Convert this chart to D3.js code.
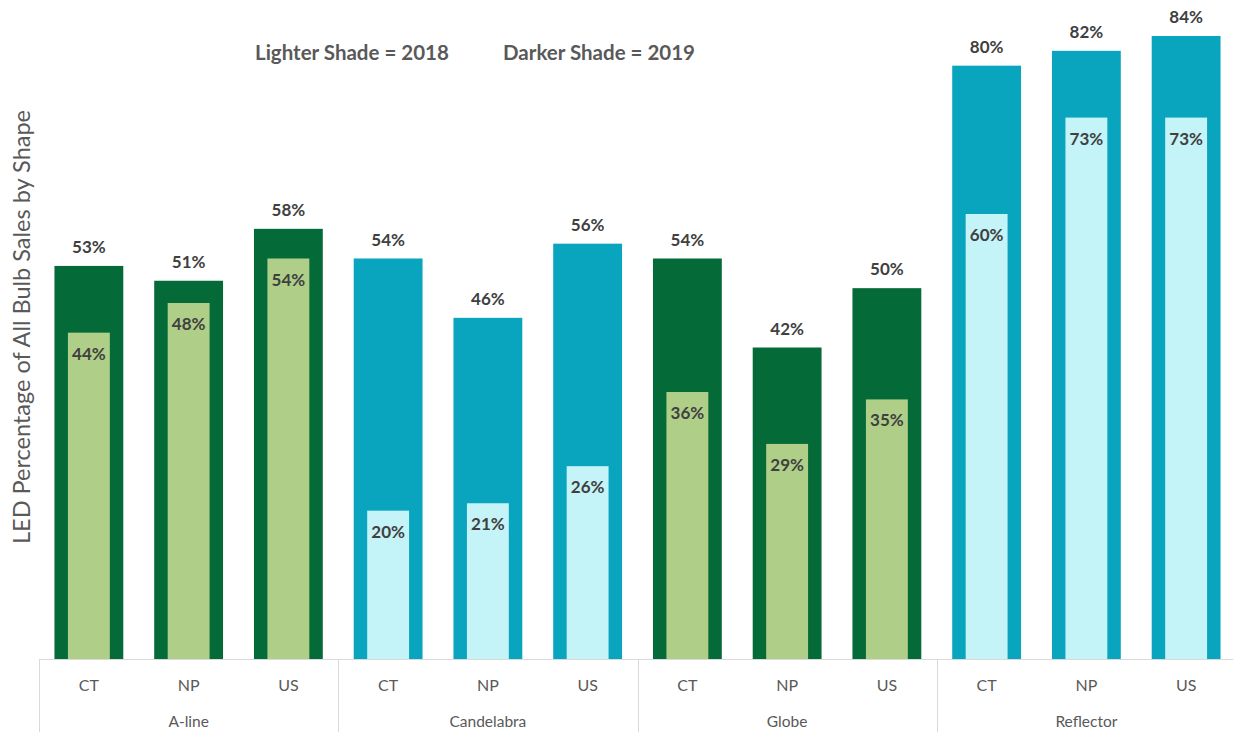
<!DOCTYPE html>
<html lang="en">
<head>
<meta charset="UTF-8">
<title>LED share by shape</title>
<style>
  body { margin: 0; background: #fff; }
  text { font-family: Lato, "Open Sans", sans-serif; }
</style>
</head>
<body>
<svg width="1233" height="732"></svg>
<script src="https://d3js.org/d3.v7.min.js"></script>
<script>
const groups = ["A-line", "Candelabra", "Globe", "Reflector"];
const regions = ["CT", "NP", "US"];
const values2019 = [53, 51, 58, 54, 46, 56, 54, 42, 50, 80, 82, 84];
const values2018 = [44, 48, 54, 20, 21, 26, 36, 29, 35, 60, 73, 73];
const groupPalette = [
  { dark: "#046a38", light: "#afcf88" },
  { dark: "#09a4be", light: "#c4f3f8" },
  { dark: "#046a38", light: "#afcf88" },
  { dark: "#09a4be", light: "#c4f3f8" }
];

const rows = [];
groups.forEach((g, gi) => regions.forEach((r, ri) => {
  const i = gi * 3 + ri;
  rows.push({ key: g + "|" + r, group: g, gi, region: r, v19: values2019[i], v18: values2018[i] });
}));

const svg = d3.select("svg");
const left = 39, right = 1236, base = 659;

const x = d3.scaleBand().domain(rows.map(d => d.key)).range([left, right]).padding(0);
const xg = d3.scaleBand().domain(groups).range([left, right]).padding(0);
const y = d3.scaleLinear().domain([0, 84]).range([base, 36]);

const wDark = x.bandwidth() * 0.69;
const wLight = x.bandwidth() * 0.42;

// 2019 bars (wide, dark)
svg.append("g").selectAll("rect").data(rows).join("rect")
  .attr("x", d => x(d.key) + (x.bandwidth() - wDark) / 2)
  .attr("width", wDark)
  .attr("y", d => y(d.v19))
  .attr("height", d => base - y(d.v19))
  .attr("fill", d => groupPalette[d.gi].dark);

// 2018 bars (narrow, light)
svg.append("g").selectAll("rect").data(rows).join("rect")
  .attr("x", d => x(d.key) + (x.bandwidth() - wLight) / 2)
  .attr("width", wLight)
  .attr("y", d => y(d.v18))
  .attr("height", d => base - y(d.v18))
  .attr("fill", d => groupPalette[d.gi].light);

// labels
svg.append("g").selectAll("text").data(rows).join("text")
  .attr("x", d => x(d.key) + x.bandwidth() / 2)
  .attr("y", d => y(d.v19) - 13)
  .attr("text-anchor", "middle")
  .attr("font-size", 17).attr("font-weight", "bold").attr("fill", "#404040")
  .text(d => d.v19 + "%");

svg.append("g").selectAll("text").data(rows).join("text")
  .attr("x", d => x(d.key) + x.bandwidth() / 2)
  .attr("y", d => y(d.v18) + 27)
  .attr("text-anchor", "middle")
  .attr("font-size", 17).attr("font-weight", "bold").attr("fill", "#404040")
  .text(d => d.v18 + "%");

// axis
const axis = svg.append("g");
axis.append("line")
  .attr("x1", left).attr("x2", right).attr("y1", base + 0.5).attr("y2", base + 0.5)
  .attr("stroke", "#d9d9d9");
axis.selectAll("line.sep").data(groups.concat(["end"])).join("line")
  .attr("class", "sep")
  .attr("x1", d => Math.round(d === "end" ? right : xg(d)) + 0.5)
  .attr("x2", d => Math.round(d === "end" ? right : xg(d)) + 0.5)
  .attr("y1", base).attr("y2", 732)
  .attr("stroke", "#d9d9d9");
axis.selectAll("text.cat").data(rows).join("text")
  .attr("class", "cat")
  .attr("x", d => x(d.key) + x.bandwidth() / 2)
  .attr("y", 691)
  .attr("text-anchor", "middle")
  .attr("font-size", 16).attr("fill", "#595959")
  .text(d => d.region);
axis.selectAll("text.grp").data(groups).join("text")
  .attr("class", "grp")
  .attr("x", d => xg(d) + xg.bandwidth() / 2)
  .attr("y", 727)
  .attr("text-anchor", "middle")
  .attr("font-size", 15.5).attr("fill", "#595959")
  .text(d => d);

// y title
svg.append("text")
  .attr("transform", "translate(30,327) rotate(-90)")
  .attr("text-anchor", "middle")
  .attr("font-size", 23.5).attr("fill", "#595959")
  .text("LED Percentage of All Bulb Sales by Shape");

// legend note
svg.append("text").attr("x", 255).attr("y", 60)
  .attr("font-size", 20.5).attr("font-weight", "bold").attr("fill", "#595959")
  .text("Lighter Shade = 2018");
svg.append("text").attr("x", 503).attr("y", 60)
  .attr("font-size", 20.5).attr("font-weight", "bold").attr("fill", "#595959")
  .text("Darker Shade = 2019");
</script>
</body>
</html>
